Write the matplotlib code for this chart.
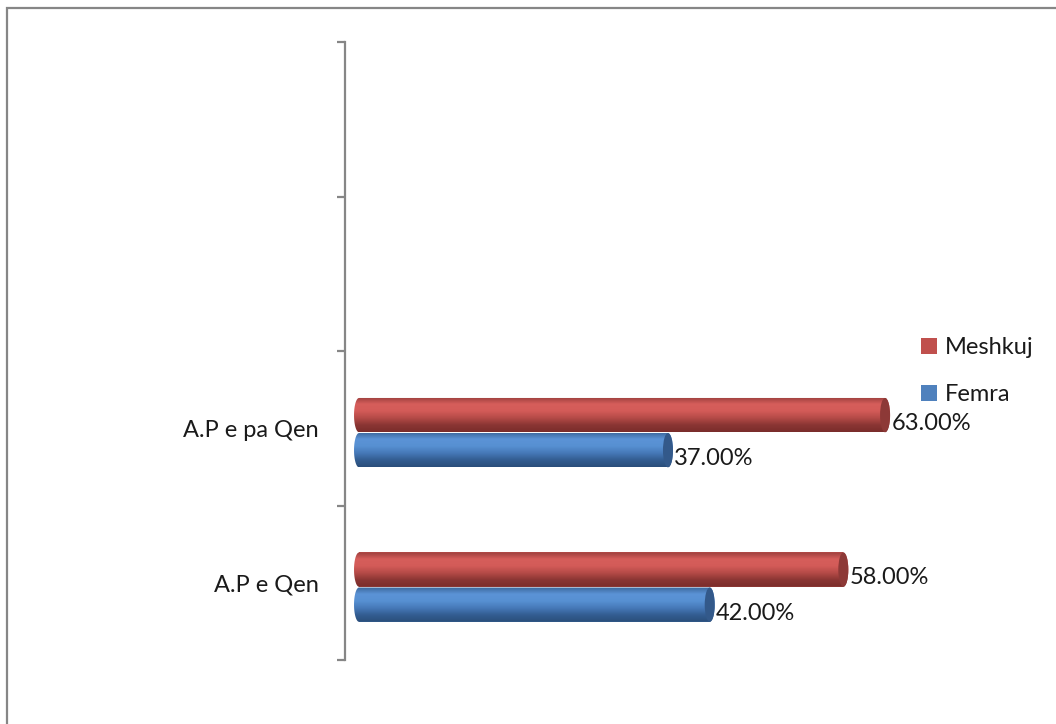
import numpy as np
import matplotlib
matplotlib.use('Agg')
import matplotlib.pyplot as plt
from matplotlib.colors import LinearSegmentedColormap
from matplotlib.patches import Polygon, Ellipse, Rectangle, Patch

plt.rcParams['font.family'] = ['Lato', 'DejaVu Sans']

# data
categories = ['A.P e Qen', 'A.P e pa Qen']
femra = [42.0, 37.0]
meshkuj = [58.0, 63.0]
series_names = ['Femra', 'Meshkuj']

# colours: base, gradient stops (top -> bottom), end cap
red_base = '#c0504d'
red_grad = ['#9c3f3d', '#d65e5b', '#d35b58', '#b44a47', '#8a3533', '#7a2d2b']
red_cap = '#8d3937'
blue_base = '#4f81bd'
blue_grad = ['#3b679b', '#5b93d6', '#5790d2', '#4679b8', '#335d91', '#2a4e7a']
blue_cap = '#33598a'

fig = plt.figure(figsize=(10.56, 7.24), dpi=100)
ax = fig.add_axes([345/1056, 1 - 660/724, 677/1056, 618/724])

bar_h = 0.222
cap_w = 1.2   # width of the cylinder end caps, in data units
y = np.arange(len(categories))


def cylinder(yc, val, grad, cap_color):
    a = cap_w / 2
    b = bar_h / 2
    t_left = np.radians(np.linspace(90, 270, 40))
    t_right = np.radians(np.linspace(-90, 90, 40))
    pts = np.vstack([
        np.column_stack([a * np.cos(t_left), yc + b * np.sin(t_left)]),
        np.column_stack([val + a * np.cos(t_right), yc + b * np.sin(t_right)]),
    ])
    outline = Polygon(pts, closed=True, facecolor='none', edgecolor='none')
    ax.add_patch(outline)
    cmap = LinearSegmentedColormap.from_list('cyl', grad)
    shade = np.linspace(0, 1, 200).reshape(-1, 1)
    im = ax.imshow(shade, cmap=cmap, aspect='auto', origin='upper',
                   extent=(-a, val + a, yc - b, yc + b), zorder=2,
                   interpolation='bilinear')
    im.set_clip_path(outline)
    ax.add_patch(Ellipse((val, yc), cap_w, bar_h, facecolor=cap_color,
                         edgecolor='none', zorder=3))


red_y = y + 0.085
blue_y = y - 0.142
ax.barh(red_y, meshkuj, height=bar_h, color=red_base, zorder=1)
ax.barh(blue_y, femra, height=bar_h, color=blue_base, zorder=1)

for yc, v in zip(red_y, meshkuj):
    cylinder(yc, v, red_grad, red_cap)
    ax.annotate(f'{v:.2f}%', (v + cap_w / 2, yc), xytext=(1, -6),
                textcoords='offset points', va='center', ha='left',
                fontsize=17, color='#1a1a1a')
for yc, v in zip(blue_y, femra):
    cylinder(yc, v, blue_grad, blue_cap)
    ax.annotate(f'{v:.2f}%', (v + cap_w / 2, yc), xytext=(1, -6),
                textcoords='offset points', va='center', ha='left',
                fontsize=17, color='#1a1a1a')

ax.set_xlim(-1.68, 79.4)
ax.set_ylim(-0.5, 3.5)

# axis styling: only the category axis is shown
for side in ['top', 'right', 'bottom']:
    ax.spines[side].set_visible(False)
ax.spines['left'].set_color('#868686')
ax.spines['left'].set_linewidth(1.6)
ax.set_xticks([])
ax.set_yticks(np.arange(-0.5, 4, 1.0))
ax.set_yticklabels([])
ax.tick_params(axis='y', which='major', direction='out', length=6,
               width=1.6, color='#868686')
ax.set_yticks(y, categories, minor=True)
ax.tick_params(axis='y', which='minor', length=0, pad=19, labelsize=17,
               labelcolor='#1a1a1a')

handles = [Patch(facecolor=red_base), Patch(facecolor=blue_base)]
fig.legend(handles, [series_names[1], series_names[0]], loc='upper left',
           bbox_to_anchor=(900/1056, 1 - 316/724), frameon=False,
           fontsize=17, handlelength=0.65, handleheight=0.65,
           handletextpad=0.35, labelspacing=1.1, labelcolor='#1a1a1a')

# chart border
fig.add_artist(Rectangle((7/1056, -0.1), 1.2, 1.1 - 8/724,
                         transform=fig.transFigure, fill=False,
                         edgecolor='#868686', linewidth=1.6))

fig.savefig('out.png', dpi=100)
